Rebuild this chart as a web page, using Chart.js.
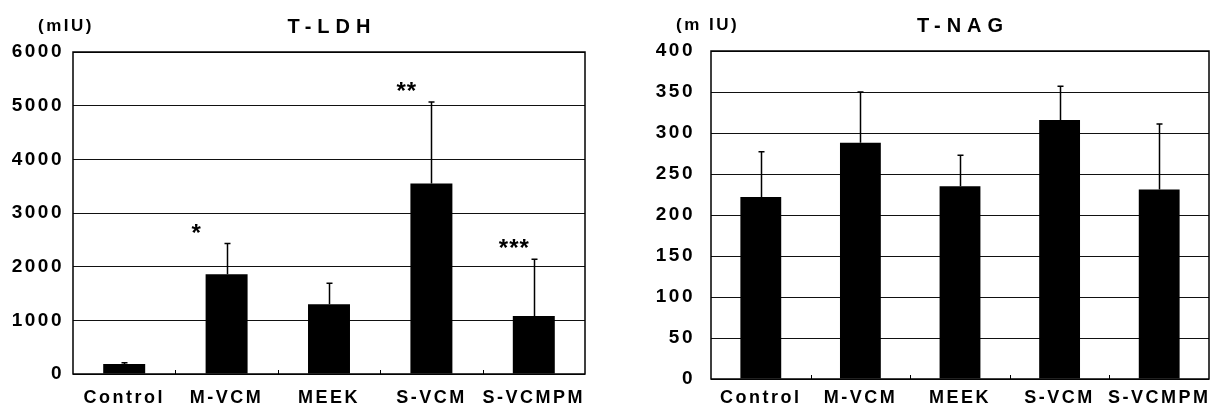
<!DOCTYPE html>
<html>
<head>
<meta charset="utf-8">
<script src="https://cdn.jsdelivr.net/npm/chart.js@4.4.0/dist/chart.umd.min.js"></script>
<style>
    body { margin: 0; background: #fff; }
    .panel { position: absolute; top: 0; height: 410px; }
</style>
</head>
<body>
<div class="panel" style="left:0;width:600px"><canvas id="ldhChart" width="600" height="410"></canvas></div>
<div class="panel" style="left:600px;width:618px"><canvas id="nagChart" width="618" height="410"></canvas></div>
<script>
const groups = ['Control', 'M-VCM', 'MEEK', 'S-VCM', 'S-VCMPM'];

// T-LDH (mIU): mean and upper SD per group
const ldhMean = [185, 1860, 1300, 3550, 1080];
const ldhSd = [25, 570, 390, 1520, 1060];
const ldhMarks = ['', '*', '', '**', '***'];

// T-NAG (mIU)
const nagMean = [222, 288, 235, 316, 231];
const nagSd = [55, 62, 38, 41, 80];
const nagMarks = ['', '', '', '', ''];

const FONT = '"Liberation Sans", Arial, sans-serif';

const panelPlugin = {
    id: 'panel',
    beforeUpdate(chart) { chart.ctx.letterSpacing = '2.5px'; },
    beforeDraw(chart) { chart.ctx.letterSpacing = '2.5px'; },
    afterDatasetsDraw(chart, args, opts) {
        const { ctx, chartArea: a, scales: { x, y } } = chart;
        const meta = chart.getDatasetMeta(0);
        const means = chart.data.datasets[0].data;
        ctx.save();
        ctx.strokeStyle = '#000';
        ctx.fillStyle = '#000';

        // plot frame
        ctx.lineWidth = 1.5;
        ctx.strokeRect(a.left, a.top, a.right - a.left, a.bottom - a.top);

        // short marks between groups on the base line
        ctx.lineWidth = 1;
        for (let i = 0; i < means.length - 1; i++) {
            const px = Math.round((x.getPixelForValue(i) + x.getPixelForValue(i + 1)) / 2) + 0.5;
            ctx.beginPath();
            ctx.moveTo(px, a.bottom);
            ctx.lineTo(px, a.bottom - 4);
            ctx.stroke();
        }

        // upper error bars
        ctx.lineWidth = 1.5;
        opts.sd.forEach((sd, i) => {
            const cx = Math.round(meta.data[i].x) + 0.5;
            const y0 = y.getPixelForValue(means[i]);
            const y1 = y.getPixelForValue(means[i] + sd);
            ctx.beginPath();
            ctx.moveTo(cx, y0);
            ctx.lineTo(cx, y1);
            ctx.moveTo(cx - 3, y1);
            ctx.lineTo(cx + 3, y1);
            ctx.stroke();
        });

        // significance marks
        ctx.font = 'bold 24px ' + FONT;
        ctx.letterSpacing = '1px';
        ctx.textAlign = 'left';
        ctx.textBaseline = 'alphabetic';
        opts.marks.forEach((m, i) => {
            if (!m) return;
            const cx = meta.data[i].x;
            const top = y.getPixelForValue(means[i] + opts.sd[i]);
            ctx.fillText(m, cx - 35, top - 3);
        });
        ctx.restore();
    },
    afterDraw(chart, args, opts) {
        const { ctx, chartArea: a } = chart;
        ctx.save();
        ctx.fillStyle = '#000';
        ctx.textBaseline = 'middle';

        ctx.font = 'bold 17px ' + FONT;
        ctx.letterSpacing = '2.5px';
        ctx.textAlign = 'left';
        ctx.fillText(opts.unit, a.left - 35, a.top - 26);

        ctx.font = 'bold 20px ' + FONT;
        ctx.letterSpacing = '6px';
        ctx.textAlign = 'center';
        ctx.fillText(opts.title, (a.left + a.right) / 2 + 3, a.top - 25);
        ctx.restore();
    }
};

function makeChart(id, cfg) {
    const ctx = document.getElementById(id).getContext('2d');
    return new Chart(ctx, {
        type: 'bar',
        data: {
            labels: groups,
            datasets: [{
                data: cfg.mean,
                backgroundColor: '#000',
                borderWidth: 0,
                barPercentage: 0.41,
                categoryPercentage: 1
            }]
        },
        options: {
            responsive: false,
            animation: false,
            devicePixelRatio: 1,
            layout: { padding: { top: cfg.top, right: cfg.right, left: 0, bottom: 0 } },
            plugins: {
                legend: { display: false },
                tooltip: { enabled: false },
                panel: { sd: cfg.sd, marks: cfg.marks, unit: cfg.unit, title: cfg.title }
            },
            scales: {
                x: {
                    grid: { display: false },
                    border: { display: false },
                    ticks: {
                        color: '#000',
                        font: { family: FONT, size: 18, weight: 'bold' },
                        padding: cfg.xPad,
                        maxRotation: 0,
                        autoSkip: false
                    },
                    afterFit: s => { s.height = cfg.xHeight; }
                },
                y: {
                    min: 0,
                    max: cfg.max,
                    grid: { color: '#111', lineWidth: 1, drawTicks: false },
                    border: { display: false },
                    ticks: {
                        stepSize: cfg.step,
                        color: '#000',
                        font: { family: FONT, size: 19, weight: 'bold' },
                        padding: cfg.yPad,
                        callback: v => String(v)
                    },
                    afterFit: s => { s.width = cfg.yWidth; }
                }
            }
        },
        plugins: [panelPlugin]
    });
}

makeChart('ldhChart', {
    mean: ldhMean, sd: ldhSd, marks: ldhMarks,
    unit: '(mIU)', title: 'T-LDH',
    max: 6000, step: 1000,
    top: 52, right: 15, yWidth: 73, yPad: 9, xHeight: 36, xPad: 5
});

makeChart('nagChart', {
    mean: nagMean, sd: nagSd, marks: nagMarks,
    unit: '(m IU)', title: 'T-NAG',
    max: 400, step: 50,
    top: 51, right: 9, yWidth: 111, yPad: 16, xHeight: 31, xPad: 0
});
</script>
</body>
</html>
